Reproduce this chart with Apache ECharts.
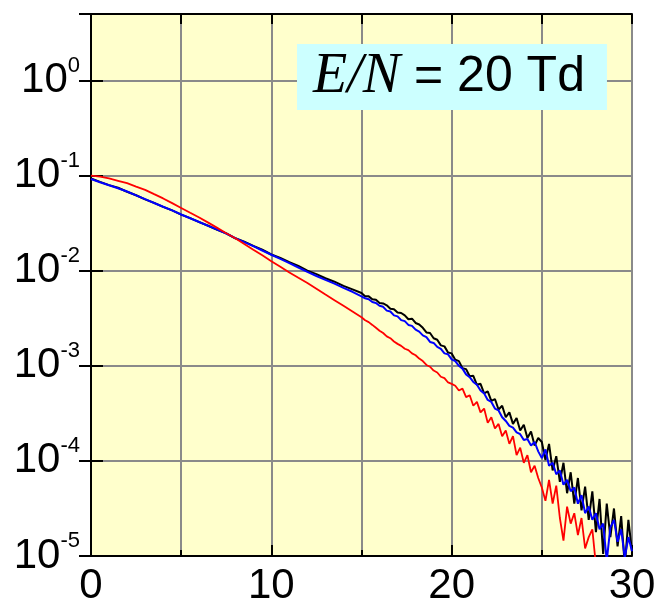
<!DOCTYPE html>
<html>
<head>
<meta charset="utf-8">
<script src="https://cdn.jsdelivr.net/npm/echarts@6.0.0/dist/echarts.min.js"></script>
<style>
  html, body { margin: 0; padding: 0; background: #ffffff; }
  #chart { width: 654px; height: 600px; }
</style>
</head>
<body>
<div id="chart"></div>
<script>
// Energy grid (eV): coarse below 15 eV, finer in the noisy tail
const energy = [0,0.5,1,1.5,2,2.5,3,3.5,4,4.5,5,5.5,6,6.5,7,7.5,8,8.5,9,9.5,10,10.5,11,11.5,12,12.5,13,13.5,14,14.5,
  15,15.2,15.4,15.6,15.8,16,16.2,16.4,16.6,16.8,17,17.2,17.4,17.6,17.8,18,18.2,18.4,18.6,18.8,19,19.2,19.4,19.6,19.8,
  20,20.2,20.4,20.6,20.8,21,21.2,21.4,21.6,21.8,22,22.2,22.4,22.6,22.8,23,23.2,23.4,23.6,23.8,24,24.2,24.4,24.6,24.8,
  25,25.2,25.4,25.6,25.8,26,26.2,26.4,26.6,26.8,27,27.2,27.4,27.6,27.8,28,28.2,28.4,28.6,28.8,29,29.2,29.4,29.6,29.8,30];

// Black curve
const blackLow = [9.33e-2,8.58e-2,7.94e-2,7.45e-2,6.76e-2,6.21e-2,5.62e-2,5.16e-2,4.68e-2,4.30e-2,3.89e-2,3.57e-2,3.24e-2,2.97e-2,2.69e-2,
  2.47e-2,2.19e-2,2.02e-2,1.82e-2,1.66e-2,1.48e-2,1.36e-2,1.23e-2,1.12e-2,1.00e-2,9.20e-3,8.32e-3,7.66e-3,6.92e-3,6.36e-3];
const blackHigh = [5.82e-3,5.40e-3,5.37e-3,5.01e-3,4.95e-3,4.57e-3,4.52e-3,4.32e-3,3.98e-3,3.94e-3,3.63e-3,3.59e-3,3.39e-3,3.09e-3,3.13e-3,
  2.82e-3,2.72e-3,2.51e-3,2.24e-3,2.21e-3,1.95e-3,1.88e-3,1.64e-3,1.60e-3,1.38e-3,
  1.35e-3,1.16e-3,1.12e-3,9.44e-4,9.23e-4,7.76e-4,7.85e-4,6.31e-4,6.46e-4,5.13e-4,5.37e-4,4.27e-4,4.47e-4,3.47e-4,3.80e-4,
  2.88e-4,3.24e-4,2.45e-4,2.82e-4,2.09e-4,2.40e-4,1.74e-4,2.04e-4,1.45e-4,1.74e-4,
  1.58e-4,1.02e-4,1.51e-4,7.94e-5,1.12e-4,6.03e-5,9.55e-5,4.57e-5,7.59e-5,3.55e-5,6.61e-5,3.02e-5,5.37e-5,2.40e-5,4.79e-5,
  1.78e-5,3.98e-5,1.05e-5,3.55e-5,1.58e-5,3.16e-5,1.26e-5,2.63e-5,7.94e-6,2.40e-5,1.12e-5];

// Blue curve
const blueLow = [9.20e-2,8.50e-2,7.90e-2,7.35e-2,6.80e-2,6.20e-2,5.65e-2,5.15e-2,4.70e-2,4.30e-2,3.90e-2,3.56e-2,3.25e-2,2.96e-2,2.70e-2,
  2.46e-2,2.20e-2,2.00e-2,1.81e-2,1.63e-2,1.47e-2,1.33e-2,1.20e-2,1.08e-2,9.70e-3,8.80e-3,8.00e-3,7.30e-3,6.60e-3,6.00e-3];
const blueHigh = [5.37e-3,5.13e-3,5.01e-3,4.68e-3,4.57e-3,4.27e-3,4.17e-3,3.80e-3,3.72e-3,3.39e-3,3.31e-3,3.02e-3,2.95e-3,2.69e-3,2.63e-3,
  2.40e-3,2.29e-3,2.09e-3,2.00e-3,1.78e-3,1.74e-3,1.58e-3,1.51e-3,1.35e-3,1.32e-3,
  1.17e-3,1.12e-3,1.00e-3,9.33e-4,8.13e-4,7.59e-4,6.76e-4,6.31e-4,5.50e-4,5.13e-4,4.37e-4,4.17e-4,3.55e-4,3.39e-4,2.88e-4,
  2.63e-4,2.34e-4,2.24e-4,2.00e-4,1.91e-4,1.66e-4,1.70e-4,1.45e-4,1.58e-4,1.26e-4,
  1.07e-4,1.32e-4,8.91e-5,9.55e-5,7.24e-5,7.94e-5,5.62e-5,6.31e-5,4.79e-5,5.25e-5,3.55e-5,4.37e-5,2.82e-5,3.31e-5,2.40e-5,
  2.82e-5,1.91e-5,2.19e-5,8.91e-6,2.00e-5,2.40e-5,1.41e-5,1.91e-5,9.55e-6,1.58e-5,1.12e-5];

// Red curve
const redLow = [1.00e-1,9.73e-2,9.33e-2,8.81e-2,8.32e-2,7.67e-2,7.08e-2,6.38e-2,5.75e-2,5.13e-2,4.57e-2,4.07e-2,3.63e-2,3.20e-2,2.82e-2,
  2.48e-2,2.19e-2,1.91e-2,1.66e-2,1.45e-2,1.26e-2,1.10e-2,9.55e-3,8.41e-3,7.41e-3,6.46e-3,5.62e-3,4.90e-3,4.27e-3,3.72e-3];
const redHigh = [3.24e-3,3.01e-3,2.88e-3,2.69e-3,2.51e-3,2.34e-3,2.21e-3,2.04e-3,1.95e-3,1.80e-3,1.70e-3,1.62e-3,1.51e-3,1.46e-3,1.35e-3,
  1.29e-3,1.19e-3,1.12e-3,1.02e-3,9.77e-4,8.91e-4,8.51e-4,7.67e-4,7.41e-4,6.68e-4,
  6.46e-4,6.17e-4,5.50e-4,5.75e-4,4.68e-4,4.90e-4,3.80e-4,4.17e-4,3.24e-4,3.55e-4,2.51e-4,2.88e-4,2.19e-4,2.45e-4,1.82e-4,
  2.09e-4,1.51e-4,1.82e-4,1.15e-4,1.38e-4,9.55e-5,1.15e-4,7.59e-5,8.91e-5,6.61e-5,
  5.25e-5,3.80e-5,6.31e-5,3.55e-5,5.50e-5,2.51e-5,1.45e-5,3.31e-5,2.19e-5,2.82e-5,1.66e-5,2.51e-5,1.20e-5,1.58e-5,1.91e-5,
  7.94e-6,5.62e-6,7.08e-6,5.01e-6,8.91e-6,4.47e-6,3.98e-6,5.01e-6,3.55e-6,3.98e-6,3.16e-6];

// Axis labels
const xTickLabels = ['0', '10', '20', '30'];
const legendText = { field: 'E/N', rest: ' = 20 Td' };

const black = blackLow.concat(blackHigh);
const blue = blueLow.concat(blueHigh);
const red = redLow.concat(redHigh);
const pairs = (ys) => energy.map((e, i) => [e, ys[i]]);

const chart = echarts.init(document.getElementById('chart'), null, { renderer: 'canvas' });

const gridLine = { color: '#8a8a8a', width: 2 };
const frame = { show: true, lineStyle: { color: '#000', width: 2 } };

function powerLabel(v) {
  const lg = Math.log10(v);
  const ex = Math.round(lg);
  if (Math.abs(lg - ex) > 1e-6) return '';
  return '{b|10}{s|' + ex + '}';
}

chart.setOption({
  animation: false,
  backgroundColor: '#ffffff',
  title: {
    left: 297,
    top: 42,
    text: '{it|' + legendText.field + '}{rm|' + legendText.rest + '}',
    backgroundColor: '#CCFFFF',
    padding: [5, 22, 5, 16],
    textStyle: {
      fontWeight: 'normal',
      rich: {
        it: { fontFamily: 'Liberation Serif', fontStyle: 'italic', fontWeight: 'normal', fontSize: 56, lineHeight: 60, color: '#000' },
        rm: { fontFamily: 'Liberation Sans', fontWeight: 'normal', fontSize: 50, lineHeight: 60, color: '#000' }
      }
    }
  },
  grid: {
    left: 91, top: 14, right: 22, bottom: 44,
    outerBoundsMode: 'none',
    containLabel: false,
    show: true,
    backgroundColor: '#FFFFCC',
    borderColor: '#000',
    borderWidth: 0
  },
  xAxis: [
    {
      type: 'value', position: 'bottom', min: 0, max: 30, interval: 10,
      axisLine: frame,
      axisTick: { show: true, inside: true, length: 11, lineStyle: { color: '#000', width: 2 } },
      minorTick: { show: true, splitNumber: 2, length: 6, lineStyle: { color: '#000', width: 2 } },
      splitLine: { show: true, lineStyle: gridLine },
      minorSplitLine: { show: true, lineStyle: gridLine },
      axisLabel: {
        margin: 9,
        fontFamily: 'Liberation Sans', fontSize: 42, color: '#000',
        formatter: (v) => xTickLabels.indexOf(String(v)) >= 0 ? String(v) : ''
      }
    },
    {
      type: 'value', position: 'top', min: 0, max: 30, interval: 5,
      axisLine: frame,
      axisTick: { show: true, inside: true, length: 10, lineStyle: { color: '#000', width: 2 } },
      splitLine: { show: false },
      axisLabel: { show: false }
    }
  ],
  yAxis: [
    {
      type: 'log', logBase: 10, min: 1e-5, max: 5, position: 'left',
      axisLine: frame,
      axisTick: { show: true, inside: true, length: 12, lineStyle: { color: '#000', width: 2 } },
      splitLine: { show: true, lineStyle: gridLine },
      axisLabel: {
        margin: 11,
        color: '#000',
        formatter: powerLabel,
        rich: {
          b: { fontFamily: 'Liberation Sans', fontSize: 42, lineHeight: 52, color: '#000' },
          s: { fontFamily: 'Liberation Sans', fontSize: 22, lineHeight: 22, verticalAlign: 'top', color: '#000' }
        }
      }
    },
    {
      type: 'log', logBase: 10, min: 1e-5, max: 5, position: 'right',
      axisLine: frame,
      axisTick: { show: true, inside: true, length: 12, lineStyle: { color: '#000', width: 2 } },
      splitLine: { show: false },
      axisLabel: { show: false }
    }
  ],
  series: [
    { name: 'black', type: 'line', data: pairs(black), showSymbol: false, symbol: 'none',
      lineStyle: { color: '#000000', width: 2 }, clip: true, z: 2 },
    { name: 'blue', type: 'line', data: pairs(blue), showSymbol: false, symbol: 'none',
      lineStyle: { color: '#0000FF', width: 2 }, clip: true, z: 3 },
    { name: 'red', type: 'line', data: pairs(red), showSymbol: false, symbol: 'none',
      lineStyle: { color: '#FF0000', width: 1.8 }, clip: true, z: 4 }
  ]
});
</script>
</body>
</html>
